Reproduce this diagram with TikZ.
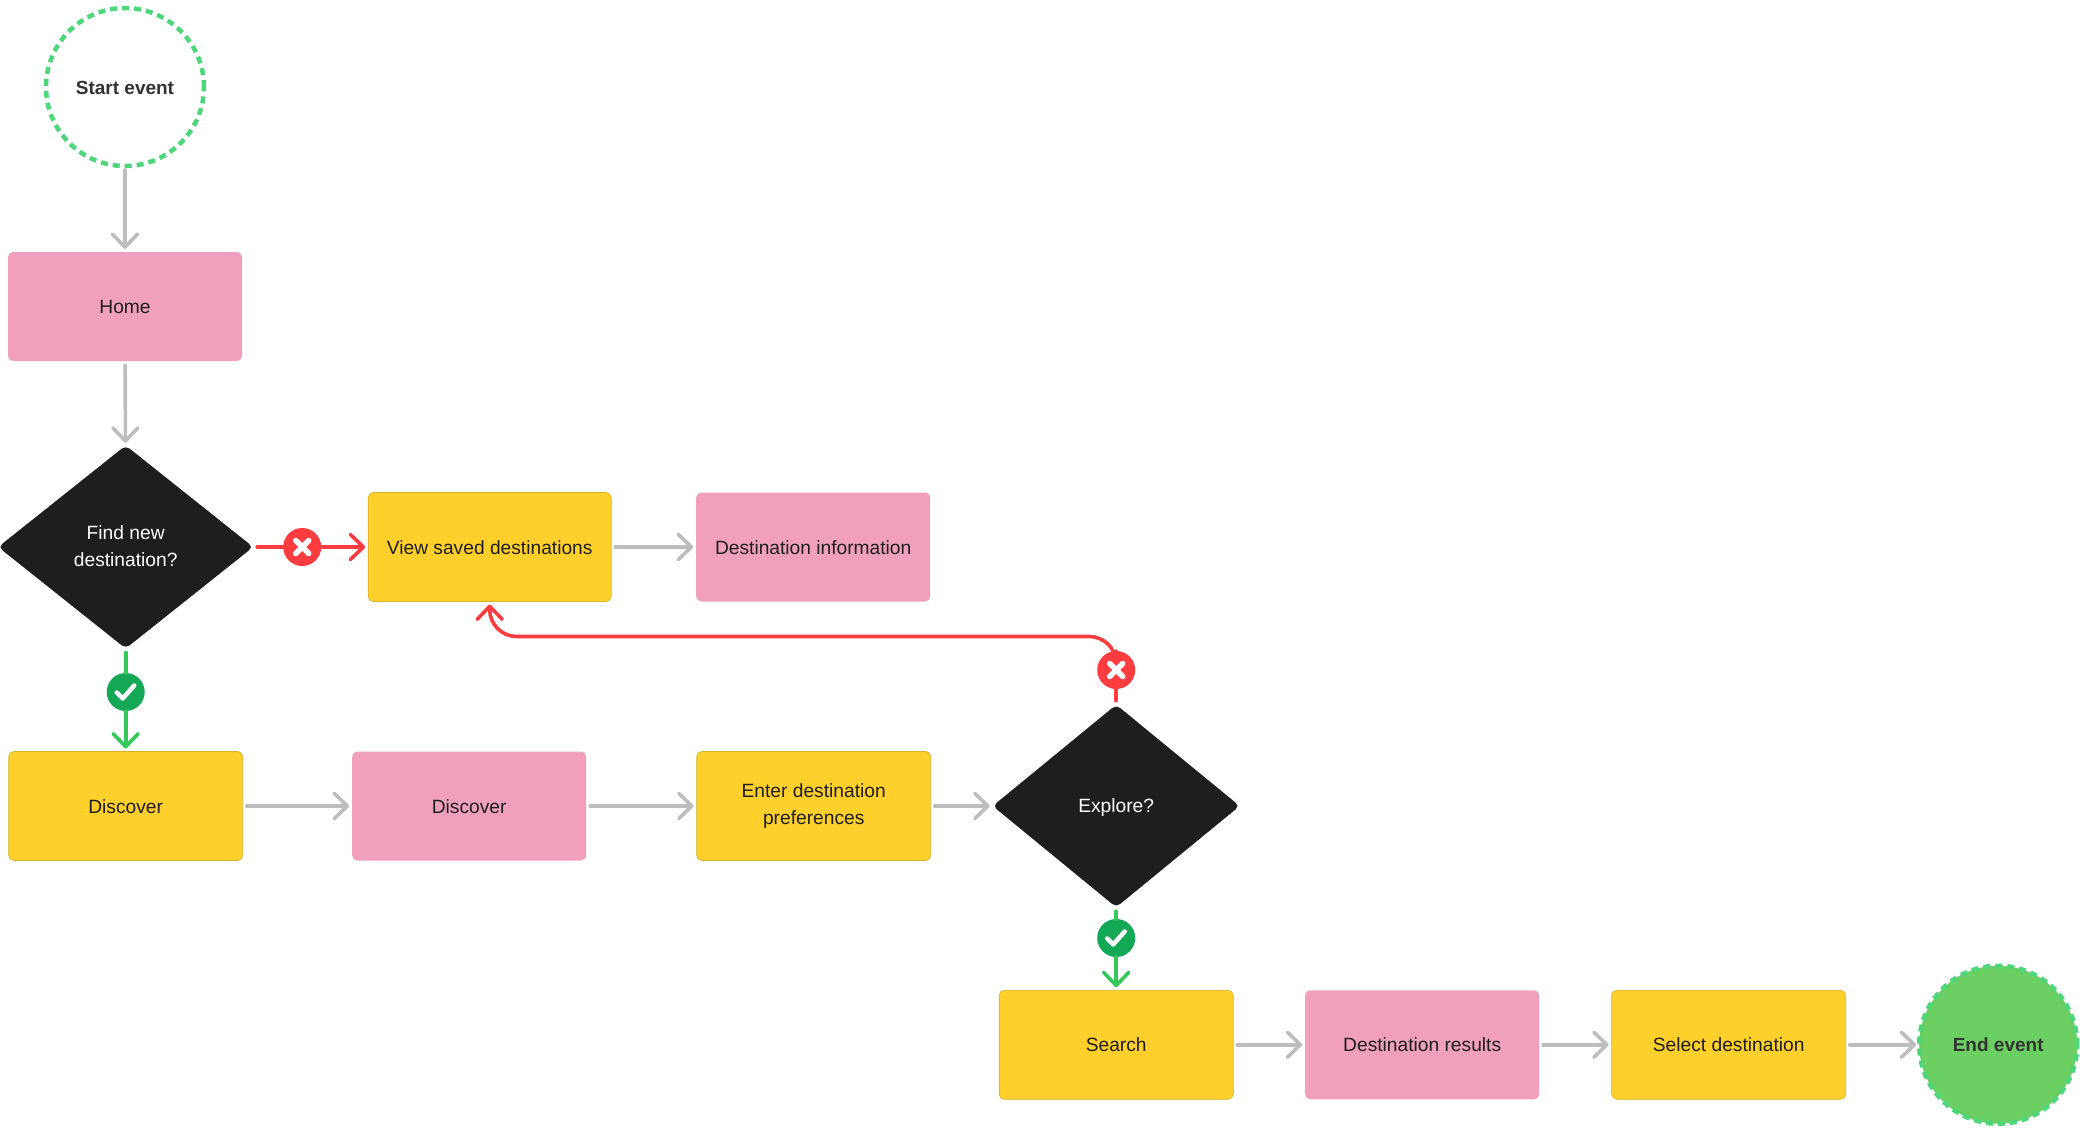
\documentclass[tikz,border=0pt]{standalone}
\usepackage{fontspec}
\setmainfont{Liberation Sans}
\usetikzlibrary{arrows.meta,shapes.geometric,positioning,backgrounds}
\definecolor{mypink}{RGB}{240,160,188}
\definecolor{myyellow}{RGB}{255,208,43}
\definecolor{myblack}{RGB}{30,30,30}
\definecolor{myred}{RGB}{255,60,64}
\definecolor{mygreen}{RGB}{52,200,90}
\definecolor{mydark}{RGB}{18,168,86}
\definecolor{mydash}{RGB}{78,214,122}
\definecolor{myfill}{RGB}{107,207,99}
\definecolor{mygray}{RGB}{189,189,189}
\newcommand{\nodestrut}{\rule[-2pt]{0pt}{18pt}}

\begin{document}
\begin{tikzpicture}[x=1pt,y=1pt,
    every node/.style={font=\fontsize{19.2}{27}\selectfont,text=myblack,outer sep=0pt,
        execute at begin node=\nodestrut,execute at end node=\nodestrut},
    flow/.style={line width=3.6pt,line cap=round,shorten <=4pt,shorten >=3pt,
        -{Straight Barb[length=13pt,width=25pt,line width=3.6pt,round]}},
    grayline/.style={flow,mygray},
    redline/.style={flow,myred},
    greenline/.style={flow,mygreen},
    stub/.style={-,shorten >=0pt},
    page/.style={fill=mypink,rounded corners=5pt,minimum width=234pt,minimum height=109pt,align=center},
    action/.style={page,fill=myyellow,draw=myyellow!85!black,line width=0.6pt},
    choice/.style={diamond,fill=myblack,text=white,rounded corners=5pt,inner sep=0pt,align=center},
    event/.style={circle,draw=mydash,line width=4.5pt,dash pattern=on 7pt off 5pt,minimum size=158pt,
        inner sep=0pt,text=black!80,font=\fontsize{19}{27}\selectfont\bfseries},
    nobadge/.style={circle,fill=myred,minimum size=38pt,inner sep=0pt,
        path picture={\draw[white,line width=5.5pt,line cap=round]
            ([shift={(-6.5pt,-6.5pt)}]path picture bounding box.center) -- ++(13pt,13pt)
            ([shift={(-6.5pt,6.5pt)}]path picture bounding box.center) -- ++(13pt,-13pt);}},
    okbadge/.style={circle,fill=mydark,minimum size=38pt,inner sep=0pt,
        path picture={\draw[white,line width=4.5pt,line cap=round,line join=round]
            ([shift={(-9pt,-0.5pt)}]path picture bounding box.center) -- ++(6pt,-6pt) -- ++(11.5pt,13pt);}}]
  \useasboundingbox (0,0) rectangle (2080,-1132);
  \node[event,fill=white] (start) at (125,-87) {Start event};
  \node[page,below=86pt of start] (home) {Home};
  \node[choice,minimum width=255pt,minimum height=203pt,below=84.5pt of home,xshift=0.7pt] (findnew) {Find new\\destination?};
  \node[action,minimum width=243pt,right=115pt of findnew] (saved) {View saved destinations};
  \node[page,right=85pt of saved] (info) {Destination information};
  \node[action,below=103pt of findnew] (discover) {Discover};
  \node[page,right=109.5pt of discover] (discoverp) {Discover};
  \node[action,right=110.5pt of discoverp] (prefs) {Enter destination\\preferences};
  \node[choice,minimum width=247pt,minimum height=202.5pt,right=62pt of prefs] (explore) {Explore?};
  \node[action,below=83pt of explore] (search) {Search};
  \node[page,right=72pt of search] (results) {Destination results};
  \node[action,right=72.5pt of results] (select) {Select destination};
  \node[event,fill=myfill,right=73.5pt of select] (end) {End event};
  \node[nobadge,right=30pt of findnew] (nofind) {};
  \node[okbadge,below=24.5pt of findnew] (okfind) {};
  \node[nobadge,above=15.75pt of explore] (noexplore) {};
  \node[okbadge,below=11.75pt of explore] (okexplore) {};
  \coordinate[below=35pt of saved] (turn);
  \draw[grayline] (start)--(home);
  \draw[grayline] (home)--(findnew);
  \draw[redline,stub] (findnew)--(nofind);
  \draw[redline,shorten <=0pt] (nofind)--(saved);
  \draw[greenline,stub] (findnew)--(okfind);
  \draw[greenline,shorten <=0pt] (okfind)--(discover);
  \draw[grayline] (saved)--(info);
  \draw[grayline] (discover)--(discoverp);
  \draw[grayline] (discoverp)--(prefs);
  \draw[grayline] (prefs)--(explore);
  \draw[redline,stub] (explore)--(noexplore);
  \draw[greenline,stub] (explore)--(okexplore);
  \draw[greenline,shorten <=0pt] (okexplore)--(search);
  \begin{scope}[on background layer]
    \draw[redline,shorten <=0pt,rounded corners=27pt] (noexplore) |- (turn) -- (saved);
  \end{scope}
  \draw[grayline] (search)--(results);
  \draw[grayline] (results)--(select);
  \draw[grayline] (select)--(end);
\end{tikzpicture}
\end{document}
